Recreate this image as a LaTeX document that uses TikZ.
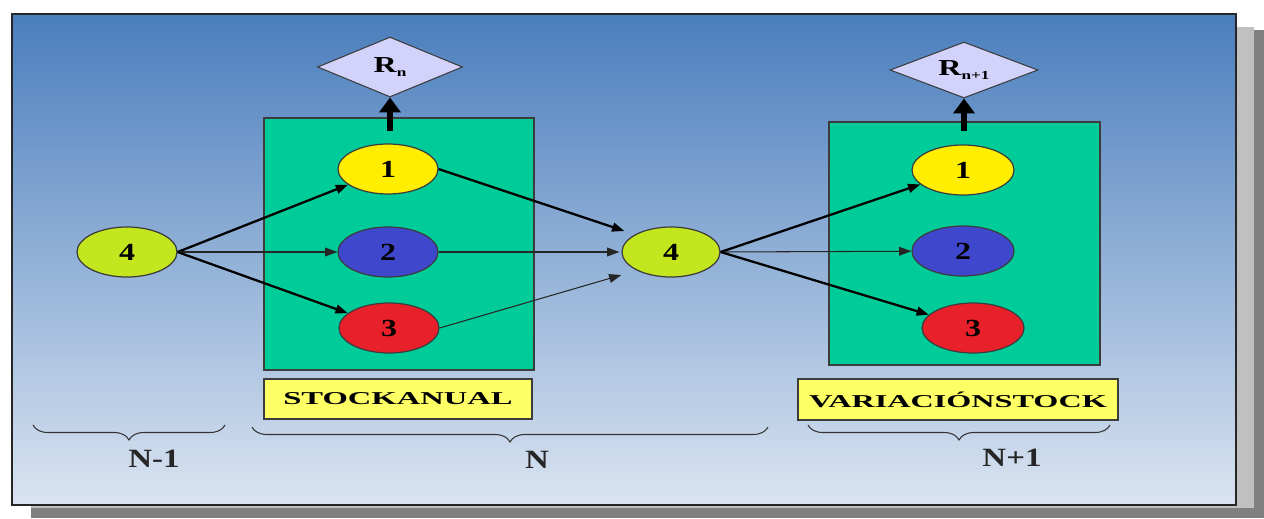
\documentclass[tikz,border=0pt]{standalone}
\usepackage{fontspec}
\setmainfont{Liberation Serif}
\usetikzlibrary{shapes.geometric,arrows.meta,decorations.pathreplacing,calc}

\definecolor{paneltop}{RGB}{74,126,189}
\definecolor{panelmid}{RGB}{146,172,213}
\definecolor{panelbot}{RGB}{218,228,241}
\definecolor{shadowlight}{RGB}{192,192,192}
\definecolor{shadowdark}{RGB}{128,128,128}
\definecolor{stockgreen}{RGB}{0,204,153}
\definecolor{labelyellow}{RGB}{255,255,102}
\definecolor{nodeyellow}{RGB}{255,238,0}
\definecolor{nodeblue}{RGB}{63,72,204}
\definecolor{nodered}{RGB}{232,32,42}
\definecolor{nodelime}{RGB}{196,230,30}
\definecolor{rewardfill}{RGB}{210,210,250}
\definecolor{edgegray}{RGB}{60,60,60}

\newcommand{\rewardtext}[2]{\makebox[0pt]{\scalebox{1.4}[1]{R\raisebox{-0.35ex}{\fontsize{7}{8}\selectfont #2}}}}

\begin{document}
\begin{tikzpicture}[x=0.02cm,y=-0.02cm,
  stockbox/.style={draw=edgegray,line width=0.9pt,fill=stockgreen,inner sep=0pt},
  namebox/.style={draw=edgegray,line width=1pt,fill=labelyellow,inner sep=0pt,
    font=\fontsize{10.3}{12}\selectfont\bfseries},
  state/.style={ellipse,draw=edgegray,line width=0.7pt,inner sep=0pt,
    minimum width=2cm,minimum height=1cm,font=\fontsize{14}{16}\selectfont\bfseries},
  reward/.style={diamond,draw=edgegray,line width=0.6pt,fill=rewardfill,inner sep=0pt,
    font=\fontsize{13}{15}\selectfont\bfseries},
  stagelabel/.style={font=\fontsize{15}{17}\selectfont\bfseries,text=black!85},
  flow/.style={-{Triangle[length=7pt,width=5pt]},line width=1.3pt,black},
  thinflow/.style={-{Triangle[length=7pt,width=5pt]},line width=0.6pt,black!85},
  outflow/.style={-{Triangle[length=8.5pt,width=12pt]},line width=3pt,black},
  stagebrace/.style={decorate,decoration={brace,mirror,amplitude=0.3cm},
    line width=0.6pt,black!80}]

\useasboundingbox (0,0) rectangle (1264,518);

% drop shadow and gradient panel
\fill[shadowdark] (31,30) rectangle (1264,518);
\fill[shadowlight] (31,27) rectangle (1254,508);
\shade[top color=paneltop,middle color=panelmid,bottom color=panelbot] (12,14) rectangle (1236,505);
\draw[line width=1.2pt,black!85] (12,14) rectangle (1236,505);

% stage boxes
\node[stockbox,minimum width=5.4cm,minimum height=5.04cm] (boxA) at (399,244) {};
\node[stockbox,minimum width=5.42cm,minimum height=4.86cm] (boxB) at (964.5,243.5) {};

\node[namebox,minimum width=5.36cm,minimum height=0.8cm] (nameA) at (398,399)
  {\scalebox{1.8}[1]{STOCKANUAL}};
\node[namebox,minimum width=6.4cm,minimum height=0.82cm] (nameB) at (958,399.5)
  {\scalebox{1.78}[1]{VARIACIÓNSTOCK}};

% rewards
\node[reward,minimum width=2.9cm,minimum height=1.2cm] (Rn) at (390,67)
  {\rewardtext{R}{n}};
\node[reward,minimum width=2.96cm,minimum height=1.12cm] (Rn1) at (964,70)
  {\rewardtext{R}{n+1}};

% states
\node[state,fill=nodelime] (L4) at (127,252) {\scalebox{1.3}[1]{4}};
\node[state,fill=nodeyellow] (A1) at (388,169) {\scalebox{1.3}[1]{1}};
\node[state,fill=nodeblue] (A2) at (388,252) {\scalebox{1.3}[1]{2}};
\node[state,fill=nodered] (A3) at (389,328) {\scalebox{1.3}[1]{3}};
\node[state,fill=nodelime,minimum width=1.96cm] (M4) at (671,252) {\scalebox{1.3}[1]{4}};
\node[state,fill=nodeyellow,minimum width=2.04cm] (B1) at (963,170) {\scalebox{1.3}[1]{1}};
\node[state,fill=nodeblue,minimum width=2.04cm] (B2) at (963,251) {\scalebox{1.3}[1]{2}};
\node[state,fill=nodered,minimum width=2.04cm] (B3) at (973,328) {\scalebox{1.3}[1]{3}};

% transitions
\draw[flow] (L4.east) -- (A1);
\draw[thinflow] (L4.east) -- (A2);
\draw[flow] (L4.east) -- (A3);

\coordinate (M4in1) at ($(M4.west)+(3,-21)$);
\coordinate (M4in2) at ($(M4.west)+(-2,0)$);
\coordinate (M4in3) at ($(M4.west)+(0,23)$);
\draw[flow] (A1.east) -- (M4in1);
\draw[thinflow] (A2.east) -- (M4in2);
\draw[thinflow] (A3.east) -- (M4in3);

\draw[flow] (M4.east) -- (B1);
\draw[thinflow] (M4.east) -- (B2);
\draw[flow] (M4.east) -- (B3);

% rewards out of each stage
\coordinate (outA) at (390,131);
\coordinate (outB) at (964,131);
\draw[outflow] (outA) -- (Rn);
\draw[outflow] (outB) -- (Rn1);

% stage braces
\coordinate (bA0) at (33,425);
\coordinate (bA1) at (225,425);
\coordinate (bB0) at (252,427);
\coordinate (bB1) at (768,427);
\coordinate (bC0) at (808,425);
\coordinate (bC1) at (1110,425);
\draw[stagebrace] (bA0) -- (bA1);
\draw[stagebrace] (bB0) -- (bB1);
\draw[stagebrace] (bC0) -- (bC1);

\node[stagelabel] (sN0) at (154,459) {\scalebox{1.25}[1]{N-1}};
\node[stagelabel] (sN1) at (537,460) {\scalebox{1.25}[1]{N}};
\node[stagelabel] (sN2) at (1012,458) {\scalebox{1.25}[1]{N+1}};

\end{tikzpicture}
\end{document}
